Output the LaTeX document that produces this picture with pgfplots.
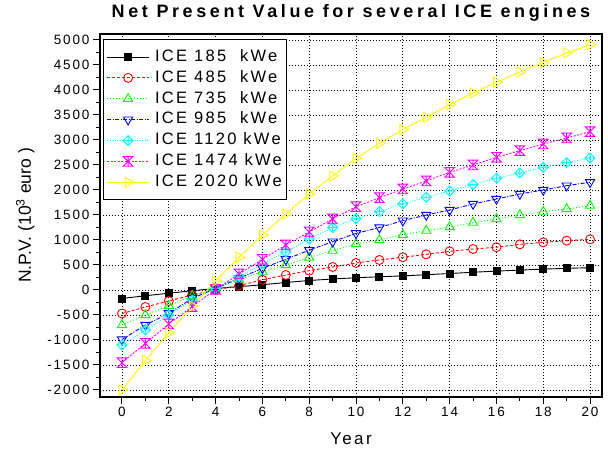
\documentclass[border=0pt]{standalone}
\usepackage{fontspec}
\setmainfont{Liberation Sans}[LetterSpace=14]
\newfontfamily\titlefont{Liberation Sans}[LetterSpace=20]
\newfontfamily\plainfont{Liberation Sans}
\usepackage{pgfplots}
\pgfplotsset{compat=1.18}

\definecolor{ice1}{RGB}{0,0,0}
\definecolor{ice2}{RGB}{255,0,0}
\definecolor{ice3}{RGB}{0,255,0}
\definecolor{ice4}{RGB}{0,0,255}
\definecolor{ice5}{RGB}{0,255,255}
\definecolor{ice6}{RGB}{255,0,255}
\definecolor{ice7}{RGB}{255,255,0}

% diamond with a plus inside
\pgfdeclareplotmark{diamondplus}{%
  \pgfpathmoveto{\pgfqpoint{\pgfplotmarksize}{0pt}}%
  \pgfpathlineto{\pgfqpoint{0pt}{\pgfplotmarksize}}%
  \pgfpathlineto{\pgfqpoint{-\pgfplotmarksize}{0pt}}%
  \pgfpathlineto{\pgfqpoint{0pt}{-\pgfplotmarksize}}%
  \pgfpathclose
  \pgfpathmoveto{\pgfqpoint{\pgfplotmarksize}{0pt}}%
  \pgfpathlineto{\pgfqpoint{-\pgfplotmarksize}{0pt}}%
  \pgfpathmoveto{\pgfqpoint{0pt}{\pgfplotmarksize}}%
  \pgfpathlineto{\pgfqpoint{0pt}{-\pgfplotmarksize}}%
  \pgfusepathqstroke}
% x with bars at top and bottom
\pgfdeclareplotmark{hourx}{%
  \pgfpathmoveto{\pgfqpoint{-\pgfplotmarksize}{-\pgfplotmarksize}}%
  \pgfpathlineto{\pgfqpoint{\pgfplotmarksize}{\pgfplotmarksize}}%
  \pgfpathlineto{\pgfqpoint{-\pgfplotmarksize}{\pgfplotmarksize}}%
  \pgfpathlineto{\pgfqpoint{\pgfplotmarksize}{-\pgfplotmarksize}}%
  \pgfpathclose
  \pgfpathmoveto{\pgfqpoint{0pt}{\pgfplotmarksize}}%
  \pgfpathlineto{\pgfqpoint{0pt}{-\pgfplotmarksize}}%
  \pgfusepathqstroke}

\pgfplotstableread{
yr  a    b    c    d    e    f    g
0   -170 -470 -700 -990 -1100 -1455 -2000
1   -115 -340 -500 -700 -800 -1067 -1413
2   -65  -220 -315 -467 -500 -680 -853
3   -15  -100 -120 -167 -200 -333 -320
4   30   5    35   30   30   10   180
5   67   87   213  233  267  320  653
6   105  205  367  433  520  613  1100
7   150  300  500  613  760  900  1520
8   190  387  650  795  1020 1160 1920
9   220  460  787  967  1250 1420 2280
10  245  540  920  1133 1425 1665 2633
11  265  600  1000 1250 1570 1845 2933
12  282  655  1105 1387 1725 2020 3210
13  305  713  1187 1500 1854 2180 3454
14  330  773  1260 1600 1980 2354 3707
15  355  820  1347 1720 2107 2500 3940
16  378  855  1420 1820 2234 2654 4154
17  398  913  1500 1920 2340 2787 4360
18  418  953  1567 2000 2454 2920 4554
19  433  987  1620 2087 2547 3040 4740
20  446  1013 1687 2155 2640 3167 4907
}\npv

\begin{document}
\begin{tikzpicture}
\begin{axis}[
  at={(0pt,0pt)}, anchor=south west,
  scale only axis, width=502pt, height=363pt,
  xmin=-0.94, xmax=20.51, ymin=-2140, ymax=5120,
  xtick={0,2,...,20}, ytick={-2000,-1500,...,5000},
  minor x tick num=1, minor y tick num=1,
  tick align=outside, tick pos=left,
  major tick length=7pt, minor tick length=4pt,
  every tick/.style={black, line width=1pt},
  grid=major, major grid style={black, line width=0.7pt, dash pattern=on 1pt off 2pt},
  axis line style={line width=1.5pt},
  ticklabel style={font=\fontsize{13.5}{16}\selectfont},
  /pgf/number format/assume math mode=true,
  /pgf/number format/1000 sep={},
  title={\titlefont\bfseries Net Present Value for several ICE engines},
  title style={at={(0.5,1)}, anchor=base, yshift=10pt, font=\fontsize{18}{21}\selectfont},
  xlabel={Year},
  xlabel style={at={(0.5,0)}, anchor=base, yshift=-48pt, font=\fontsize{17}{20}\selectfont},
  ylabel={N.P.V. (10\textsuperscript{3} euro )},
  ylabel style={at={(0,0.5)}, anchor=base, rotate=0, xshift=0pt, yshift=69pt,
    font=\plainfont\fontsize{17.5}{20}\selectfont},
  legend style={at={(0.006,0.986)}, anchor=north west, draw=black, line width=1.3pt,
    fill=white, font=\fontsize{16.5}{19}\selectfont, row sep=2.4pt, column sep=4pt,
    inner xsep=3pt, inner ysep=8pt,
    nodes={inner sep=1.5pt, text height=12pt, text depth=3.5pt}},
  legend cell align=left,
  legend image code/.code={\draw[mark repeat=2,mark phase=2,#1]
    plot coordinates {(0pt,0pt) (21pt,0pt) (42pt,0pt)};},
]
\addplot[ice1, line width=0.9pt, mark=square*, mark size=3.5pt, mark options={solid}]
  table[x=yr, y=a] {\npv};
\addlegendentry{ICE 185\ \ kWe}
\addplot[ice2, line width=0.9pt, dash pattern=on 3pt off 2pt, mark=o, mark size=4.5pt, mark options={solid}]
  table[x=yr, y=b] {\npv};
\addlegendentry{ICE 485\ \ kWe}
\addplot[ice3, line width=0.9pt, dash pattern=on 1pt off 2pt, mark=triangle, mark size=5.3pt, mark options={solid}]
  table[x=yr, y=c] {\npv};
\addlegendentry{ICE 735\ \ kWe}
\addplot[ice4, line width=0.9pt, dash pattern=on 4pt off 1.5pt on 1pt off 1.5pt, mark=triangle, mark size=5.3pt, mark options={solid, rotate=180}]
  table[x=yr, y=d] {\npv};
\addlegendentry{ICE 985\ \ kWe}
\addplot[ice5, line width=0.9pt, dash pattern=on 1pt off 1.5pt, mark=diamondplus, mark size=5pt, mark options={solid}]
  table[x=yr, y=e] {\npv};
\addlegendentry{ICE 1120 kWe}
\addplot[ice6, line width=0.9pt, dash pattern=on 2pt off 1.5pt, mark=hourx, mark size=4.8pt, mark options={solid}]
  table[x=yr, y=f] {\npv};
\addlegendentry{ICE 1474 kWe}
\addplot[ice7, line width=0.9pt, mark=triangle, mark size=5.8pt, mark options={solid, rotate=-90}]
  table[x=yr, y=g] {\npv};
\addlegendentry{ICE 2020 kWe}
\end{axis}
\pgfresetboundingbox
\useasboundingbox (-100pt,-52pt) rectangle (508pt,397pt);
\end{tikzpicture}
\end{document}
